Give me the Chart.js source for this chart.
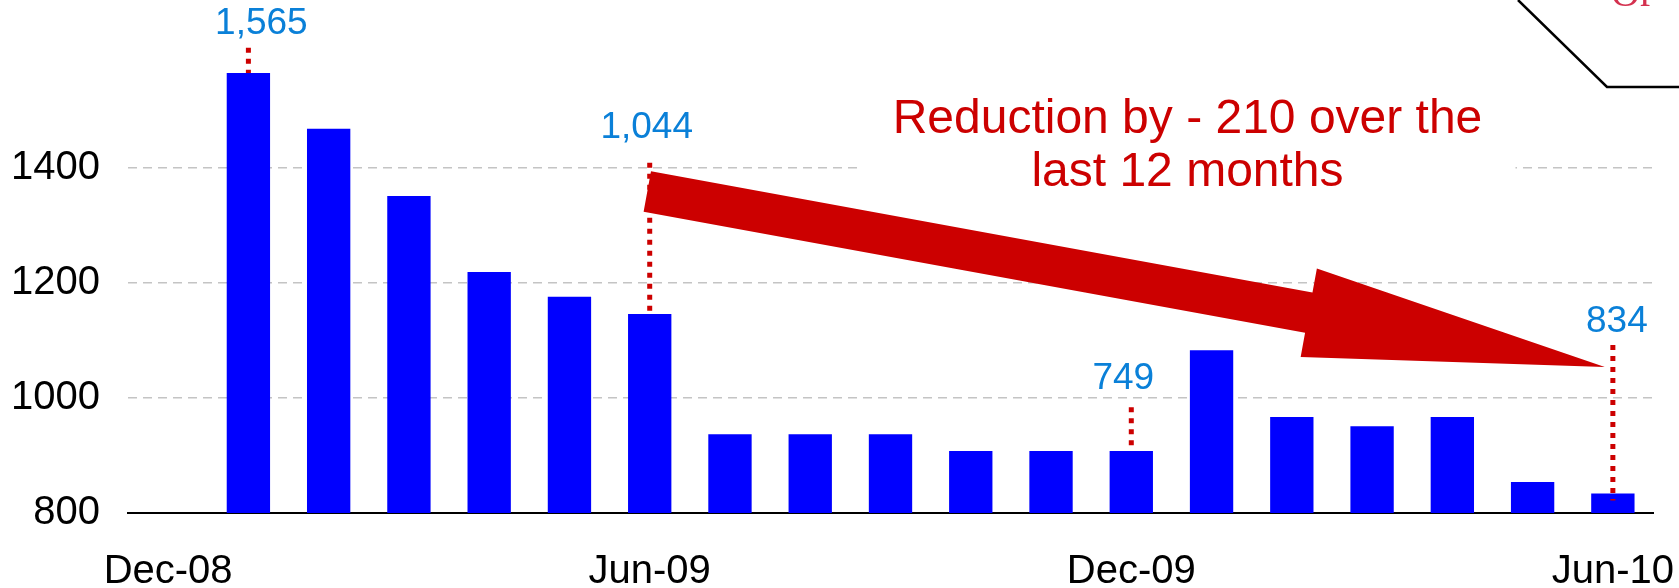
<!DOCTYPE html>
<html>
<head>
<meta charset="utf-8">
<script src="https://cdn.jsdelivr.net/npm/chart.js@4.4.1/dist/chart.umd.min.js"></script>
<style>
  html, body { margin: 0; padding: 0; background: #fff; }
  canvas { display: block; }
</style>
</head>
<body>
<canvas id="myChart" width="1679" height="588"></canvas>
<script>
const months = ['Dec-08', 'Jan-09', 'Feb-09', 'Mar-09', 'Apr-09', 'May-09', 'Jun-09',
                'Jul-09', 'Aug-09', 'Sep-09', 'Oct-09', 'Nov-09', 'Dec-09',
                'Jan-10', 'Feb-10', 'Mar-10', 'Apr-10', 'May-10', 'Jun-10'];
const cases = [null, 1565, 1468, 1351, 1219, 1176, 1146,
               937, 937, 937, 908, 908, 908,
               1083, 967, 951, 967, 854, 834];
const shownMonths = ['Dec-08', 'Jun-09', 'Dec-09', 'Jun-10'];
const yTicks = [800, 1000, 1200, 1400];

// callout labels with red dotted leaders
const noteMonths = ['Jan-09', 'Jun-09', 'Dec-09', 'Jun-10'];
const noteTexts = ['1,565', '1,044', '749', '834'];
const headline = ['Reduction by - 210 over the', 'last 12 months'];

const FONT = '"Liberation Sans", Arial, sans-serif';
const RED = '#cc0000';

// where each callout sits (value units on y, px shift on x)
const notePlace = [
  { textAt: 1651, lineTop: 1609, past: 0, dx: 13 },
  { textAt: 1470, lineTop: 1409, past: 0, dx: -3 },
  { textAt: 1033, lineTop: 984, past: 0, dx: -8 },
  { textAt: 1132, lineTop: 1092, past: 7, dx: 4 }
];

const callouts = {
  id: 'callouts',
  afterDatasetsDraw(chart) {
    const { ctx, scales: { x, y } } = chart;
    ctx.save();

    // headline box (white fill hides the grid behind it)
    const hx = x.getPixelForValue(12.7);
    ctx.fillStyle = '#fff';
    ctx.fillRect(hx - 328, 88, 656, 108);
    ctx.fillStyle = RED;
    ctx.font = '48px ' + FONT;
    ctx.textAlign = 'center';
    ctx.textBaseline = 'alphabetic';
    ctx.fillText(headline[0], hx, 133);
    ctx.fillText(headline[1], hx, 186);

    // big trend arrow from Jun-09 down to Jun-10
    const p0 = { x: x.getPixelForValue(5.97), y: y.getPixelForValue(1359) };
    const p1 = { x: x.getPixelForValue(17.9), y: y.getPixelForValue(1054) };
    const len = Math.hypot(p1.x - p0.x, p1.y - p0.y);
    const ux = (p1.x - p0.x) / len, uy = (p1.y - p0.y) / len;
    const nx = -uy, ny = ux;
    const shaft = 20.5, head = 45, headLen = 301;
    const bx = p1.x - ux * headLen, by = p1.y - uy * headLen;
    ctx.beginPath();
    ctx.moveTo(p0.x - nx * shaft, p0.y - ny * shaft);
    ctx.lineTo(bx - nx * shaft, by - ny * shaft);
    ctx.lineTo(bx - nx * head, by - ny * head);
    ctx.lineTo(p1.x, p1.y);
    ctx.lineTo(bx + nx * head, by + ny * head);
    ctx.lineTo(bx + nx * shaft, by + ny * shaft);
    ctx.lineTo(p0.x + nx * shaft, p0.y + ny * shaft);
    ctx.closePath();
    ctx.fillStyle = RED;
    ctx.fill();

    // dotted leaders + blue value notes
    noteMonths.forEach((m, i) => {
      const idx = months.indexOf(m);
      const px = x.getPixelForValue(idx);
      const pl = notePlace[i];
      ctx.beginPath();
      ctx.setLineDash([5, 6]);
      ctx.lineWidth = 5;
      ctx.strokeStyle = RED;
      ctx.moveTo(px, y.getPixelForValue(pl.lineTop));
      ctx.lineTo(px, y.getPixelForValue(cases[idx]) + pl.past);
      ctx.stroke();
      ctx.setLineDash([]);
      ctx.fillStyle = '#0a80d8';
      ctx.font = '37px ' + FONT;
      ctx.textAlign = 'center';
      ctx.textBaseline = 'middle';
      ctx.fillText(noteTexts[i], px + pl.dx, y.getPixelForValue(pl.textAt));
    });

    // corner of the neighbouring callout shape
    ctx.beginPath();
    ctx.lineWidth = 2.5;
    ctx.strokeStyle = '#000';
    ctx.moveTo(1518, 0);
    ctx.lineTo(1607, 87);
    ctx.lineTo(1679, 87);
    ctx.stroke();
    ctx.fillStyle = '#d4314f';
    ctx.font = '40px "Liberation Serif", "Times New Roman", serif';
    ctx.textAlign = 'left';
    ctx.textBaseline = 'alphabetic';
    ctx.fillText('Or', 1611, 6);

    ctx.restore();
  }
};

const ctx1 = document.getElementById('myChart').getContext('2d');
const myChart = new Chart(ctx1, {
  type: 'bar',
  data: {
    labels: months,
    datasets: [{
      data: cases,
      backgroundColor: '#0000ff',
      barPercentage: 0.54,
      categoryPercentage: 1.0
    }]
  },
  options: {
    responsive: false,
    animation: false,
    devicePixelRatio: 1,
    layout: { padding: { top: 0, right: 26, bottom: 0, left: 0 } },
    plugins: {
      legend: { display: false },
      tooltip: { enabled: false }
    },
    scales: {
      x: {
        grid: { display: false, drawTicks: false },
        border: { display: true, color: '#000', width: 2 },
        ticks: {
          autoSkip: false,
          maxRotation: 0,
          padding: 35,
          color: '#000',
          font: { family: FONT, size: 40 },
          callback: (v, i) => shownMonths.includes(months[i]) ? months[i] : ''
        },
        afterFit: (s) => {
          s.height = 75;
          s.paddingLeft = 0; s.paddingRight = 0;
        }
      },
      y: {
        min: 800,
        max: 1692,
        afterBuildTicks: (s) => { s.ticks = yTicks.map(v => ({ value: v })); },
        grid: {
          drawTicks: false,
          lineWidth: 1.5,
          color: (c) => c.tick && c.tick.value === 800 ? 'rgba(0,0,0,0)' : '#c4c4c4'
        },
        border: { display: false, dash: [9, 6] },
        ticks: {
          padding: 28,
          color: '#000',
          font: { family: FONT, size: 40 },
          callback: (v) => String(v)
        },
        afterFit: (s) => {
          s.width = 128;
          s.paddingTop = 0; s.paddingBottom = 0;
        }
      }
    }
  },
  plugins: [callouts]
});
</script>
</body>
</html>
